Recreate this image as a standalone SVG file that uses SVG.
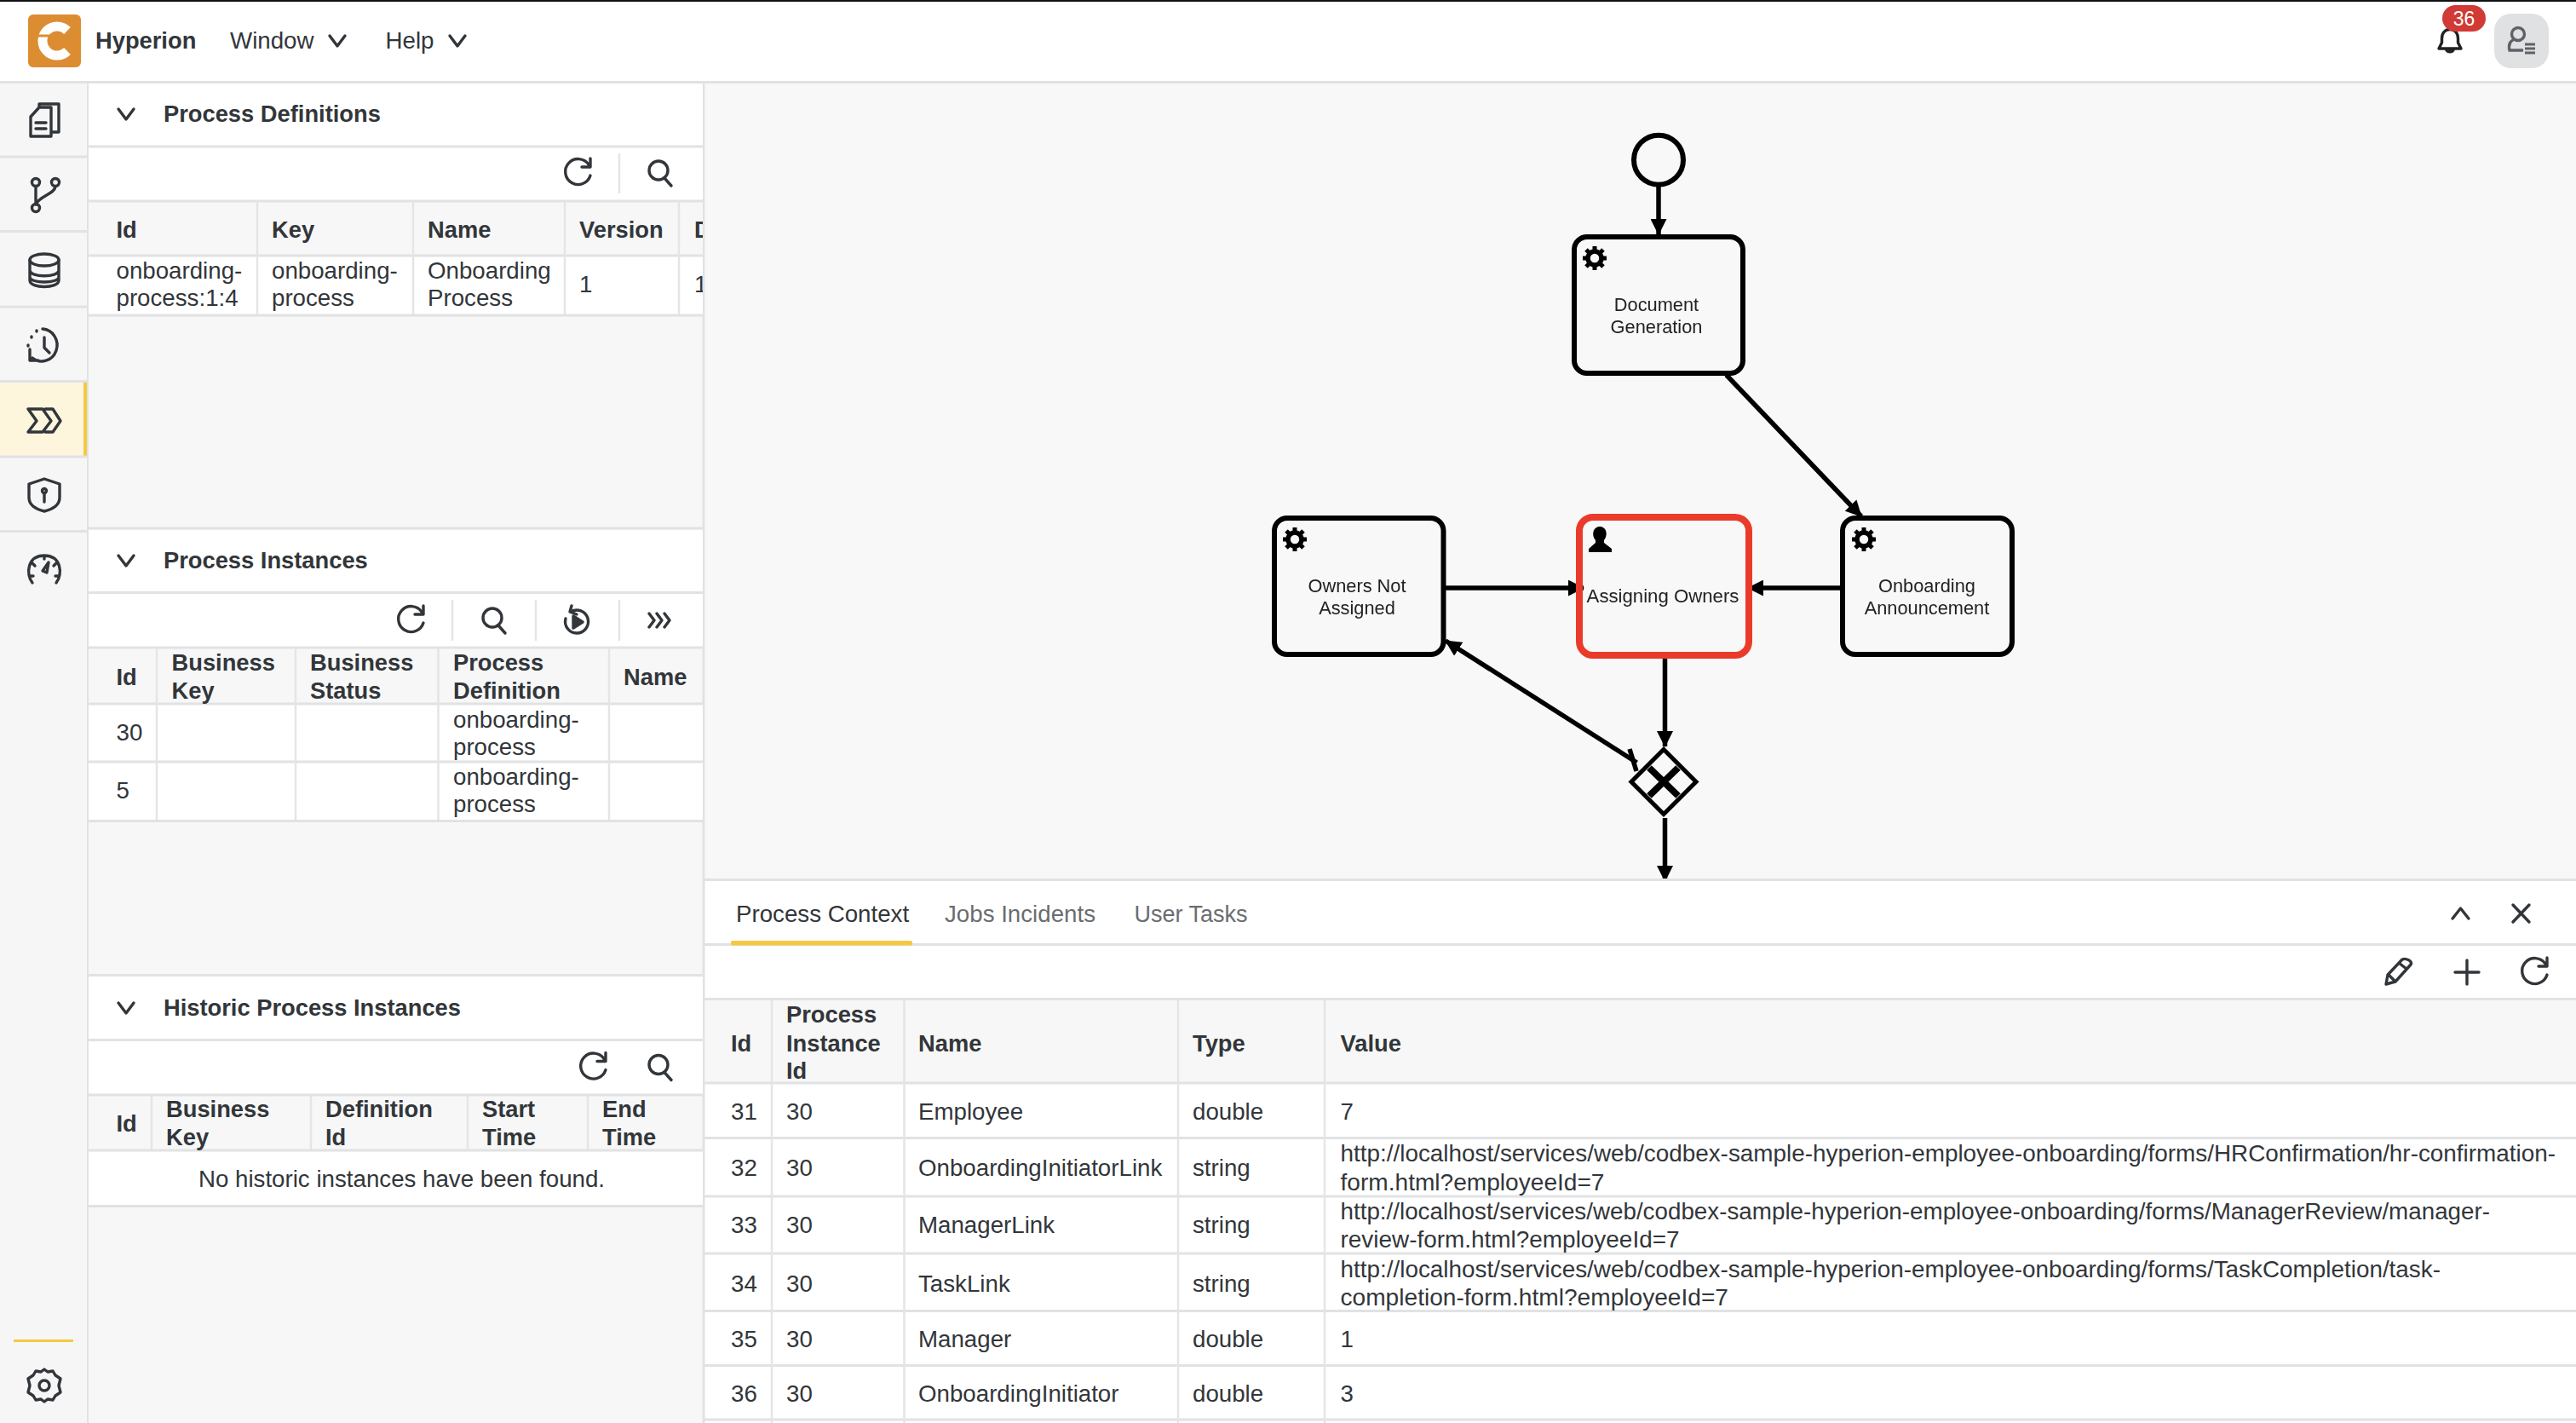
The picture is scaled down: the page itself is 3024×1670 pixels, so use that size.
<svg xmlns="http://www.w3.org/2000/svg" xmlns:xlink="http://www.w3.org/1999/xlink" width="3024" height="1670" viewBox="0 0 3024 1670">
<style>
text{font-family:"Liberation Sans",Arial,sans-serif;font-size:27.7px;fill:#32363a}
.b{font-weight:700;font-size:27.3px}
.dim{fill:#6a6d70}
.n{font-size:21.8px;fill:#222;text-anchor:middle}
.ln{stroke:#e1e2e3;stroke-width:3;fill:none}
.cl{stroke:#e4e5e6;stroke-width:2.5;fill:none}
.ic{stroke:#32363a;stroke-width:3.4;fill:none;stroke-linecap:round;stroke-linejoin:round}
.task{fill:none;stroke:#000;stroke-width:6}
.cn{stroke:#000;stroke-width:5.5;fill:none}
</style>
<defs>
<marker id="ah" viewBox="0 0 20 20" refX="19" refY="10" markerWidth="19" markerHeight="19" markerUnits="userSpaceOnUse" orient="auto"><path d="M0 0L20 10L0 20z" fill="#000"/></marker>
<clipPath id="lp"><rect x="104" y="98" width="721" height="1572"/></clipPath>
<clipPath id="dg"><rect x="828" y="98" width="2196" height="935"/></clipPath>
<filter id="soft" filterUnits="userSpaceOnUse" x="828" y="98" width="2196" height="960"><feGaussianBlur stdDeviation="0.7"/></filter>
<g id="refresh"><path class="ic" d="M13 -10A15 15 0 1 0 15 3M15 -17V-7H5"/></g>
<g id="search"><circle class="ic" cx="-2" cy="-3" r="11"/><path class="ic" d="M5 6L13 15"/></g>
<path id="chev" class="ic" d="M-9 -6L0 6L9 -6" stroke-width="4"/>
<g id="gear"><circle r="8" fill="none" stroke="#000" stroke-width="5.5"/><path stroke="#000" stroke-width="5" d="M0 -14V-8M0 14V8M-14 0H-8M14 0H8M-10 -10L-6 -6M10 10L6 6M-10 10L-6 6M10 -10L6 -6"/></g>
</defs>

<rect width="3024" height="1670" fill="#fff"/>
<rect x="0" y="0" width="3024" height="2" fill="#111"/>

<g id="shell-bar">
<rect x="33" y="17" width="62" height="62" rx="6" fill="#dc8d31"/>
<path d="M79 36A17 17 0 1 0 79 60" fill="none" stroke="#fff" stroke-width="11"/>
<path d="M44 42H70" stroke="#dc8d31" stroke-width="3"/>
<path d="M60 42H84L74 52H60z" fill="#dc8d31"/>
<text class="b" x="112" y="57">Hyperion</text>
<text x="270" y="57">Window</text>
<use xlink:href="#chev" href="#chev" x="396" y="48"/>
<text x="452.5" y="57">Help</text>
<use xlink:href="#chev" href="#chev" x="537" y="48"/>
<path d="M2863 57H2889L2885.500 50V45C2885.500 31 2866.500 31 2866.500 45V50z" fill="none" stroke="#222" stroke-width="3.4" stroke-linejoin="round"/>
<path d="M2870 58H2882C2881 64 2871 64 2870 58z" fill="#222"/>
<rect x="2867" y="6" width="51" height="31" rx="15.5" fill="#d13a35"/>
<text x="2892.5" y="29.5" text-anchor="middle" style="fill:#fff;font-size:23px">36</text>
<rect x="2928" y="16" width="64" height="64" rx="20" fill="#dfe1e3"/>
<g fill="none" stroke="#5f6368" stroke-width="3.4"><circle cx="2956" cy="40" r="7.5"/><path d="M2962 59H2946C2944 50 2949 47 2952 46"/><path d="M2964 52H2976M2964 57H2976M2964 62H2976" stroke-width="3"/></g>
<rect x="0" y="95" width="3024" height="3" fill="#e1e2e3"/>
</g>

<g id="sidebar">
<rect x="0" y="98" width="103" height="1572" fill="#f6f6f6"/>
<rect x="0" y="449" width="98" height="87" fill="#fdf6dd"/>
<rect x="98" y="449" width="4" height="87" fill="#f5c842"/>
<path class="ln" d="M0 184H103M0 271.5H103M0 360H103M0 447.5H103M0 536H103M0 623.5H103M103.500 98V1670"/>
<g><path class="ic" d="M46 126V122H69V155H62M36 160V137L46 126H60V160z"/><path class="ic" d="M42 144H54M42 151H54" /></g>
<g class="ic"><circle cx="42" cy="214" r="4.500"/><circle cx="65" cy="214" r="4.500"/><circle cx="42" cy="244" r="4.500"/><path d="M42 219V239M65 219C64 228 46 230 42 240"/></g>
<g class="ic"><ellipse cx="52" cy="305" rx="17" ry="7"/><path d="M35 305V329C35 339 69 339 69 329V305M35 317C35 326 69 326 69 317M35 325C35 333 69 333 69 325"/></g>
<g class="ic"><path d="M50 386A18 19 0 1 1 38 420M52 396V408L58 414M35 410V423H45"/><path d="M37 395V396M33 405V406M43 388V389"/></g>
<g class="ic"><path d="M33 480H50L60 494L50 507H33L43 494zM53 480H62L71 494L62 507H53"/></g>
<g class="ic"><path d="M52 562L70 568V584C70 594 60 598 52 600C44 598 34 594 34 584V568z"/><circle cx="52" cy="576" r="2.500"/><path d="M52 579V589"/></g>
<g class="ic"><path d="M38 684C30 674 32 652 52 652C72 652 74 674 66 684M35 676H39M69 676H65M38 661L41 664M66 661L63 664M52 652V656"/><path d="M50 670L57 660L55 672z"/></g>
<rect x="16" y="1572" width="70" height="3" fill="#f5c842"/>
<g class="ic"><circle cx="52" cy="1626" r="6"/><path d="M52 1607L56 1610L62 1609L65 1614L71 1618L69 1626L71 1634L65 1638L62 1643L56 1642L52 1645L48 1642L42 1643L39 1638L33 1634L35 1626L33 1618L39 1614L42 1609L48 1610z"/></g>
</g>

<g id="left-panel">
<rect x="104" y="98" width="721" height="1572" fill="#f7f7f7"/>
<path class="ln" d="M826 98V1670"/>
<g clip-path="url(#lp)">
<g id="definitions">
<rect x="104" y="98" width="722" height="138" fill="#fff"/>
<rect x="104" y="237" width="722" height="62" fill="#f7f7f7"/>
<rect x="104" y="299" width="722" height="71" fill="#fff"/>
<path class="ln" d="M104 172H826M104 236H826M104 300H826M104 370H826"/>
<path class="cl" d="M302 237V369M485 237V369M663 237V369M797 237V369M727 180V227"/>
<use xlink:href="#chev" href="#chev" x="148" y="134"/>
<text class="b" x="192" y="143">Process Definitions</text>
<use xlink:href="#refresh" href="#refresh" x="678" y="203"/>
<use xlink:href="#search" href="#search" x="775" y="203"/>
<text class="b" x="136.500" y="278.500">Id</text><text class="b" x="319" y="278.500">Key</text><text class="b" x="502" y="278.500">Name</text><text class="b" x="680" y="278.500">Version</text><text class="b" x="815" y="278.500">D</text>
<text x="136.500" y="327">onboarding-</text><text x="136.500" y="359">process:1:4</text>
<text x="319" y="327">onboarding-</text><text x="319" y="359">process</text>
<text x="502" y="327">Onboarding</text><text x="502" y="359">Process</text>
<text x="680" y="343">1</text><text x="815" y="343">1</text>
</g>
<g id="instances">
<rect x="104" y="622" width="722" height="138" fill="#fff"/>
<rect x="104" y="827" width="722" height="137" fill="#fff"/>
<path class="ln" d="M104 620H826M104 695.500H826M104 760H826M104 826H826M104 894H826M104 963.500H826"/>
<path class="cl" d="M184 761V962M347 761V962M514.500 761V962M715 761V962M531 704V752M629 704V752M727 704V752"/>
<use xlink:href="#chev" href="#chev" x="148" y="658"/>
<text class="b" x="192" y="667">Process Instances</text>
<use xlink:href="#refresh" href="#refresh" x="482" y="728"/>
<use xlink:href="#search" href="#search" x="580" y="728"/>
<g class="ic"><path d="M670 718A13.500 13.500 0 1 1 664 726M671 711L669 718L677 721"/><path d="M673 723L684 730L673 737z" fill="#32363a"/></g>
<path class="ic" d="M762 720L768 728L762 736M771 720L777 728L771 736M780 720L786 728L780 736"/>
<text class="b" x="136.500" y="803.500">Id</text>
<text class="b" x="201.500" y="787">Business</text><text class="b" x="201.500" y="820">Key</text>
<text class="b" x="364" y="787">Business</text><text class="b" x="364" y="820">Status</text>
<text class="b" x="532" y="787">Process</text><text class="b" x="532" y="820">Definition</text>
<text class="b" x="732" y="803.500">Name</text>
<text x="136.500" y="869">30</text><text x="532" y="853.500">onboarding-</text><text x="532" y="885.500">process</text>
<text x="136.500" y="937">5</text><text x="532" y="921">onboarding-</text><text x="532" y="953">process</text>
</g>
<g id="historic">
<rect x="104" y="1146" width="722" height="139" fill="#fff"/>
<rect x="104" y="1351" width="722" height="65" fill="#fff"/>
<path class="ln" d="M104 1144.500H826M104 1220.500H826M104 1285H826M104 1350H826M104 1415.500H826"/>
<path class="cl" d="M178 1286V1349M365 1286V1349M549 1286V1349M690 1286V1349"/>
<use xlink:href="#chev" href="#chev" x="148" y="1183"/>
<text class="b" x="192" y="1192">Historic Process Instances</text>
<use xlink:href="#refresh" href="#refresh" x="696" y="1252.500"/>
<use xlink:href="#search" href="#search" x="775" y="1252.500"/>
<text class="b" x="136.500" y="1327.500">Id</text>
<text class="b" x="195" y="1311">Business</text><text class="b" x="195" y="1344">Key</text>
<text class="b" x="382" y="1311">Definition</text><text class="b" x="382" y="1344">Id</text>
<text class="b" x="566" y="1311">Start</text><text class="b" x="566" y="1344">Time</text>
<text class="b" x="707" y="1311">End</text><text class="b" x="707" y="1344">Time</text>
<text x="471.500" y="1392.500" text-anchor="middle">No historic instances have been found.</text>
</g>
</g>
</g>

<rect x="828" y="98" width="2196" height="935" fill="#f8f8f8"/>
<g clip-path="url(#dg)">
<g id="diagram" filter="url(#soft)">
<g id="connectors">
<path class="cn" d="M1947 219V275" marker-end="url(#ah)"/>
<path class="cn" d="M2026.500 440L2185 606" marker-end="url(#ah)"/>
<path class="cn" d="M1697 690H1859" marker-end="url(#ah)" stroke-width="6.500"/>
<path class="cn" d="M2160 690H2052" marker-end="url(#ah)" stroke-width="6.500"/>
<path class="cn" d="M1954.500 770V876" marker-end="url(#ah)"/>
<path class="cn" d="M1921.500 895L1697 752" marker-end="url(#ah)"/>
<path class="cn" d="M1913 879L1921 905" stroke-width="4"/>
<path class="cn" d="M1954.500 960V1034" marker-end="url(#ah)"/>
</g>
<g id="start-event"><circle cx="1947" cy="187.700" r="29" fill="none" stroke="#000" stroke-width="6"/></g>
<g id="document-generation"><rect class="task" x="1848" y="278" width="198" height="160" rx="15"/><use xlink:href="#gear" href="#gear" x="1872" y="303"/><text class="n" x="1944.500" y="365">Document</text><text class="n" x="1944.500" y="390.700">Generation</text></g>
<g id="owners-not-assigned"><rect class="task" x="1496" y="608" width="198.500" height="160" rx="15"/><use xlink:href="#gear" href="#gear" x="1520" y="633"/><text class="n" x="1593" y="695">Owners Not</text><text class="n" x="1593" y="720.700">Assigned</text></g>
<g id="assigning-owners"><rect x="1854" y="607" width="199" height="162" rx="16" fill="none" stroke="#ea3a2b" stroke-width="8"/><path d="M1865 648H1892V644L1883 637V634C1888 628 1886 618 1878 618C1870 618 1868 628 1873 634V637L1865 644z" fill="#000"/><text class="n" x="1952" y="706.700" style="font-size:22.2px">Assigning Owners</text></g>
<g id="onboarding-announcement"><rect class="task" x="2163" y="608" width="199" height="160" rx="15"/><use xlink:href="#gear" href="#gear" x="2188" y="633"/><text class="n" x="2262" y="695">Onboarding</text><text class="n" x="2262" y="720.700">Announcement</text></g>
<g id="gateway"><path d="M1953 879.500L1991 917.500L1953 955.500L1915 917.500z" fill="none" stroke="#000" stroke-width="5"/><path d="M1936 901L1970 934M1970 901L1936 934" stroke="#000" stroke-width="8"/></g>
</g>
</g>

<g id="bottom-panel">
<rect x="828" y="1033" width="2196" height="637" fill="#fff"/>
<rect x="828" y="1172" width="2196" height="99" fill="#f7f7f7"/>
<path class="ln" d="M827 1032.500H3024M827 1108.500H3024M827 1172.500H3024M827 1271H3024M827 1335.500H3024M827 1404H3024M827 1471H3024M827 1538.500H3024M827 1602.500H3024M827 1666H3024"/>
<path class="cl" d="M906 1173V1670M1061.500 1173V1670M1383 1173V1670M1555 1173V1670"/>
<rect x="858" y="1104" width="213" height="5.500" rx="2" fill="#f5c842"/>
<text x="864" y="1082">Process Context</text><text class="dim" x="1109" y="1082">Jobs Incidents</text><text class="dim" x="1331.500" y="1082" textLength="133" lengthAdjust="spacingAndGlyphs">User Tasks</text>
<path class="ic" d="M2879 1078L2888.500 1066L2898 1078M2950 1062L2969 1082M2969 1062L2950 1082"/>
<path class="ic" d="M2801 1155L2803 1144L2820 1126C2824 1124 2833 1128 2830 1132L2812 1152zM2804 1144L2812 1152M2816 1130L2825 1137"/>
<path class="ic" d="M2896 1127V1155M2882 1141H2910"/>
<use xlink:href="#refresh" href="#refresh" x="2975" y="1141"/>
<text class="b" x="858" y="1233.500">Id</text><text class="b" x="923" y="1200">Process</text><text class="b" x="923" y="1233.500">Instance</text><text class="b" x="923" y="1265.500">Id</text>
<text class="b" x="1078" y="1233.500">Name</text><text class="b" x="1400" y="1233.500">Type</text><text class="b" x="1573.500" y="1233.500">Value</text>
<text x="858" y="1313.500">31</text><text x="923" y="1313.500">30</text><text x="1078" y="1313.500">Employee</text><text x="1400" y="1313.500">double</text><text x="1573.500" y="1313.500">7</text>
<text x="858" y="1380">32</text><text x="923" y="1380">30</text><text x="1078" y="1380">OnboardingInitiatorLink</text><text x="1400" y="1380">string</text>
<text x="1573.500" y="1363" textLength="1426.500" lengthAdjust="spacingAndGlyphs">http://localhost/services/web/codbex-sample-hyperion-employee-onboarding/forms/HRConfirmation/hr-confirmation-</text><text x="1573.500" y="1396.500" textLength="310" lengthAdjust="spacingAndGlyphs">form.html?employeeId=7</text>
<text x="858" y="1447">33</text><text x="923" y="1447">30</text><text x="1078" y="1447">ManagerLink</text><text x="1400" y="1447">string</text>
<text x="1573.500" y="1430.500" textLength="1349.500" lengthAdjust="spacingAndGlyphs">http://localhost/services/web/codbex-sample-hyperion-employee-onboarding/forms/ManagerReview/manager-</text><text x="1573.500" y="1463.500" textLength="398" lengthAdjust="spacingAndGlyphs">review-form.html?employeeId=7</text>
<text x="858" y="1515.500">34</text><text x="923" y="1515.500">30</text><text x="1078" y="1515.500">TaskLink</text><text x="1400" y="1515.500">string</text>
<text x="1573.500" y="1499" textLength="1291.500" lengthAdjust="spacingAndGlyphs">http://localhost/services/web/codbex-sample-hyperion-employee-onboarding/forms/TaskCompletion/task-</text><text x="1573.500" y="1532" textLength="455.500" lengthAdjust="spacingAndGlyphs">completion-form.html?employeeId=7</text>
<text x="858" y="1580.500">35</text><text x="923" y="1580.500">30</text><text x="1078" y="1580.500">Manager</text><text x="1400" y="1580.500">double</text><text x="1573.500" y="1580.500">1</text>
<text x="858" y="1645">36</text><text x="923" y="1645">30</text><text x="1078" y="1645">OnboardingInitiator</text><text x="1400" y="1645">double</text><text x="1573.500" y="1645">3</text>
</g>
</svg>
